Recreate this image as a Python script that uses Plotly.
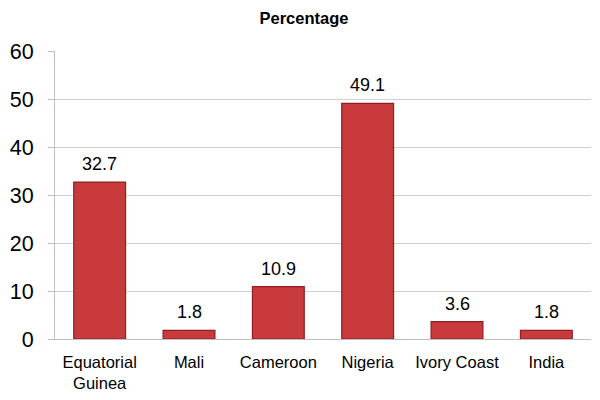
import plotly.graph_objects as go

categories = ["Equatorial<br>Guinea", "Mali", "Cameroon", "Nigeria", "Ivory Coast", "India"]
values = [32.7, 1.8, 10.9, 49.1, 3.6, 1.8]
labels = ["32.7", "1.8", "10.9", "49.1", "3.6", "1.8"]
y_ticks = [0, 10, 20, 30, 40, 50, 60]

font = "Liberation Sans, Arial, sans-serif"

fig = go.Figure()
fig.add_trace(go.Bar(
    x=categories, y=values,
    marker=dict(color="#C93A3C", line=dict(color="#8E1E20", width=1.2)),
    hoverinfo="skip",
))

for c, v, t in zip(categories, values, labels):
    fig.add_annotation(x=c, y=v, text=t, showarrow=False, yanchor="bottom",
                       yshift=6, font=dict(family=font, size=18, color="#000000"))

# page body adds an 8px offset, so the figure is 592x392 with margins shifted
fig.update_layout(
    width=592, height=392,
    margin=dict(l=47, r=9, t=43, b=61),
    paper_bgcolor="white", plot_bgcolor="white",
    bargap=0.42,
    showlegend=False,
    title=dict(text="<b>Percentage</b>", x=0.5, xanchor="center", y=0.974, yanchor="middle",
               font=dict(family=font, size=16.5, color="#000000")),
    xaxis=dict(showline=True, linecolor="#BFBFBF", linewidth=1, ticks="", automargin=False,
               ticklabelstandoff=8,
               tickfont=dict(family=font, size=16.5, color="#000000"), showgrid=False),
    yaxis=dict(range=[0, 60], tickvals=y_ticks, showline=True, linecolor="#BFBFBF", linewidth=1,
               ticks="outside", ticklen=6, tickcolor="#BFBFBF", automargin=False,
               ticklabelstandoff=10,
               showgrid=True, gridcolor="#D0D0D0", gridwidth=1, zeroline=False,
               tickfont=dict(family=font, size=21.5, color="#000000")),
)

fig.write_html("out.html")
